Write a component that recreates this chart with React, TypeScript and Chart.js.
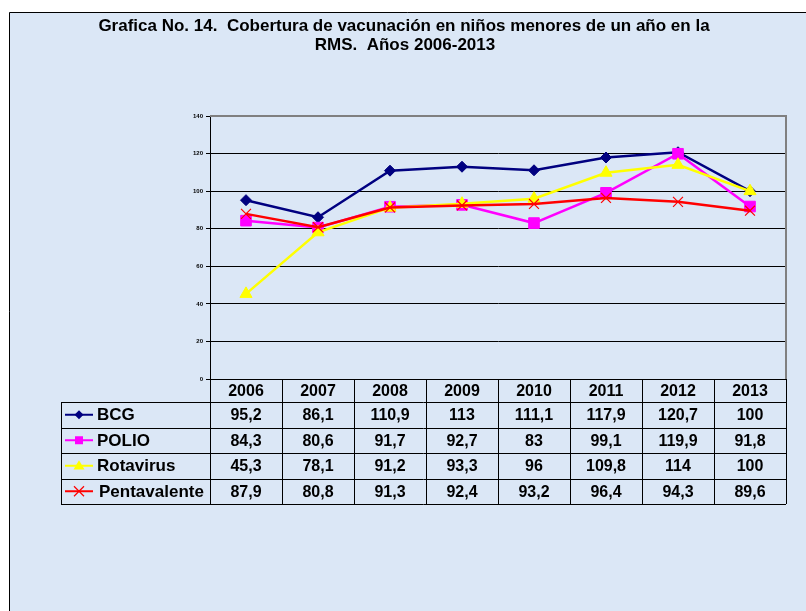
import React, { useEffect, useRef } from "react";
import { Chart, registerables } from "chart.js";

Chart.register(...registerables);

const categories = ["2006", "2007", "2008", "2009", "2010", "2011", "2012", "2013"];
const bcg = [95.2, 86.1, 110.9, 113, 111.1, 117.9, 120.7, 100];
const polio = [84.3, 80.6, 91.7, 92.7, 83, 99.1, 119.9, 91.8];
const rotavirus = [45.3, 78.1, 91.2, 93.3, 96, 109.8, 114, 100];
const pentavalente = [87.9, 80.8, 91.3, 92.4, 93.2, 96.4, 94.3, 89.6];
const seriesNames = ["BCG", "POLIO", "Rotavirus", "Pentavalente"];
const yTicks = [0, 20, 40, 60, 80, 100, 120, 140];
const titleLines = [
  "Grafica No. 14.  Cobertura de vacunación en niños menores de un año en la",
  "RMS.  Años 2006-2013",
];

const seriesData = [bcg, polio, rotavirus, pentavalente];
const seriesColors = ["#000080", "#ff00ff", "#ffff00", "#ff0000"];
const seriesShapes = ["rectRot", "rect", "triangle", "crossRot"];
const seriesRadius = [5.5, 7.5, 7, 7];

const FONT = "Arial, 'Liberation Sans', sans-serif";
const BG = "#dbe7f6";

function fmt(v: number) {
  return String(v).replace(".", ",");
}

function drawMarker(ctx: CanvasRenderingContext2D, shape: string, x: number, y: number, r: number, color: string) {
  ctx.save();
  ctx.fillStyle = color;
  ctx.strokeStyle = color;
  ctx.lineWidth = 1.2;
  ctx.beginPath();
  if (shape === "rectRot") {
    ctx.moveTo(x, y - r);
    ctx.lineTo(x + r, y);
    ctx.lineTo(x, y + r);
    ctx.lineTo(x - r, y);
    ctx.closePath();
    ctx.fill();
  } else if (shape === "rect") {
    ctx.rect(x - r, y - r, r * 2, r * 2);
    ctx.fill();
  } else if (shape === "triangle") {
    ctx.moveTo(x, y - r);
    ctx.lineTo(x + r, y + r * 0.7);
    ctx.lineTo(x - r, y + r * 0.7);
    ctx.closePath();
    ctx.fill();
  } else {
    ctx.moveTo(x - r, y - r);
    ctx.lineTo(x + r, y + r);
    ctx.moveTo(x + r, y - r);
    ctx.lineTo(x - r, y + r);
    ctx.stroke();
  }
  ctx.restore();
}

const framePlugin = {
  id: "frame",
  beforeDraw(chart: any) {
    const ctx = chart.ctx as CanvasRenderingContext2D;
    ctx.save();
    ctx.fillStyle = "#ffffff";
    ctx.fillRect(0, 0, chart.width, chart.height);
    ctx.fillStyle = BG;
    ctx.fillRect(9, 12, chart.width - 9, chart.height - 12);
    ctx.strokeStyle = "#000000";
    ctx.lineWidth = 1;
    ctx.beginPath();
    ctx.moveTo(9.5, chart.height);
    ctx.lineTo(9.5, 12.5);
    ctx.lineTo(chart.width, 12.5);
    ctx.stroke();
    // title
    ctx.fillStyle = "#000000";
    ctx.font = `bold 17px ${FONT}`;
    ctx.textAlign = "center";
    ctx.textBaseline = "middle";
    ctx.fillText(titleLines[0], 404, 26);
    ctx.fillText(titleLines[1], 405, 45);
    ctx.restore();
  },
  afterDatasetsDraw(chart: any) {
    const ctx = chart.ctx as CanvasRenderingContext2D;
    const a = chart.chartArea;
    ctx.save();
    ctx.strokeStyle = "#808080";
    ctx.lineWidth = 2;
    ctx.beginPath();
    ctx.moveTo(a.left, a.top);
    ctx.lineTo(a.right, a.top);
    ctx.lineTo(a.right, a.bottom);
    ctx.stroke();
    ctx.restore();
  },
  afterDraw(chart: any) {
    const ctx = chart.ctx as CanvasRenderingContext2D;
    const a = chart.chartArea;
    const xs = chart.scales.x;
    const n = categories.length;
    const colW = (a.right - a.left) / n;
    const top = a.bottom;
    const headerH = 23;
    const rowH = 25.5;
    const rowsTop = top + headerH;
    const bottom = rowsTop + rowH * seriesNames.length;
    const legendLeft = 61;

    ctx.save();
    ctx.strokeStyle = "#000000";
    ctx.lineWidth = 1;
    ctx.beginPath();
    ctx.moveTo(a.left, Math.round(top) + 0.5);
    ctx.lineTo(a.right, Math.round(top) + 0.5);
    for (let r = 0; r <= seriesNames.length; r++) {
      const y = Math.round(rowsTop + r * rowH) + 0.5;
      ctx.moveTo(legendLeft, y);
      ctx.lineTo(a.right, y);
    }
    ctx.moveTo(legendLeft + 0.5, rowsTop);
    ctx.lineTo(legendLeft + 0.5, bottom);
    for (let i = 0; i <= n; i++) {
      const x = Math.round(a.left + i * colW) + 0.5;
      ctx.moveTo(x, top);
      ctx.lineTo(x, bottom);
    }
    ctx.stroke();

    ctx.fillStyle = "#000000";
    ctx.textAlign = "center";
    ctx.textBaseline = "middle";
    ctx.font = `bold 16px ${FONT}`;
    for (let i = 0; i < n; i++) {
      const cx = xs.getPixelForValue(i);
      ctx.fillText(categories[i], cx, top + headerH / 2 + 1);
      for (let r = 0; r < seriesData.length; r++) {
        ctx.fillText(fmt(seriesData[r][i]), cx, rowsTop + r * rowH + rowH / 2 + 1);
      }
    }
    ctx.textAlign = "left";
    ctx.font = `bold 17px ${FONT}`;
    const keyR = [4.5, 4, 5.5, 5];
    for (let r = 0; r < seriesNames.length; r++) {
      const cy = rowsTop + r * rowH + rowH / 2;
      ctx.strokeStyle = seriesColors[r];
      ctx.lineWidth = 2;
      ctx.beginPath();
      ctx.moveTo(65, cy);
      ctx.lineTo(93, cy);
      ctx.stroke();
      drawMarker(ctx, seriesShapes[r], 79, cy, keyR[r], seriesColors[r]);
      ctx.fillStyle = "#000000";
      ctx.fillText(seriesNames[r], r === 3 ? 99 : 97, cy + 1);
    }
    ctx.restore();
  },
};

export default function App() {
  const ref = useRef<HTMLCanvasElement>(null);
  useEffect(() => {
    if (!ref.current) return;
    const chart = new Chart(ref.current, {
      type: "line",
      data: {
        labels: categories,
        datasets: seriesNames.map((name, i) => ({
          label: name,
          data: seriesData[i],
          borderColor: seriesColors[i],
          backgroundColor: seriesColors[i],
          pointBackgroundColor: seriesColors[i],
          pointBorderColor: seriesColors[i],
          pointStyle: seriesShapes[i] as any,
          pointRadius: seriesRadius[i],
          pointBorderWidth: i === 3 ? 1.2 : 1,
          borderWidth: 2.5,
          tension: 0,
          order: seriesNames.length - i,
        })),
      },
      options: {
        responsive: false,
        animation: false,
        events: [],
        layout: { padding: { top: 116, left: 0, right: 20, bottom: 232 } },
        plugins: {
          legend: { display: false },
          title: { display: false },
          tooltip: { enabled: false },
        },
        scales: {
          x: {
            type: "category",
            display: false,
            offset: true,
          },
          y: {
            min: 0,
            max: 140,
            afterFit: (s: any) => {
              s.width = 210;
            },
            afterBuildTicks: (s: any) => {
              s.ticks = yTicks.map((v) => ({ value: v }));
            },
            ticks: {
              font: { family: FONT, size: 6, weight: "bold" },
              color: "#000000",
              padding: 3,
            },
            grid: {
              color: "#000000",
              lineWidth: 1,
              drawTicks: true,
              tickLength: 4,
              tickColor: "#000000",
            },
            border: { color: "#000000", width: 1 },
          },
        },
      },
      plugins: [framePlugin],
    });
    return () => chart.destroy();
  }, []);
  return (
    <div style={{ position: "absolute", left: 0, top: 0, width: 806, height: 611 }}>
      <canvas ref={ref} width={806} height={611} style={{ display: "block" }} />
    </div>
  );
}
